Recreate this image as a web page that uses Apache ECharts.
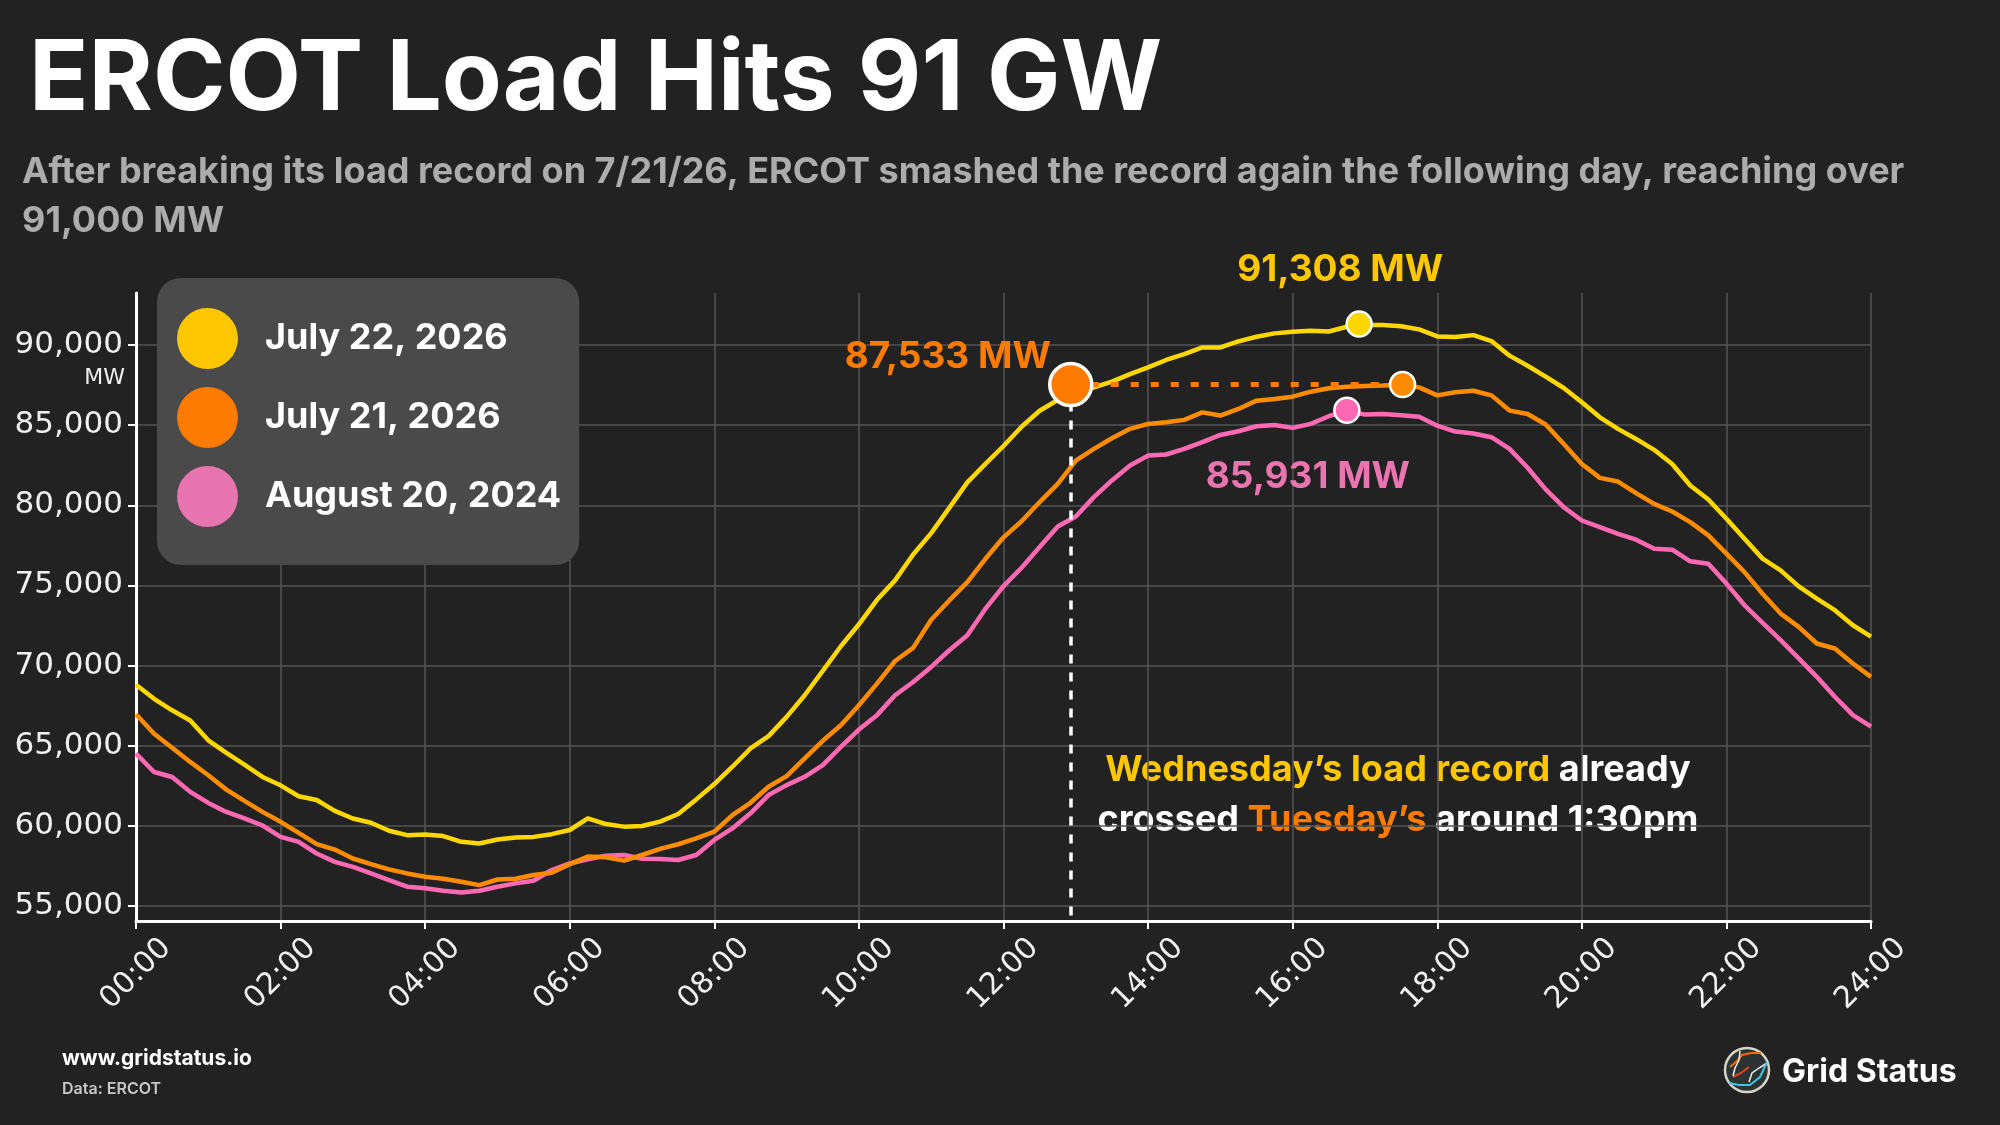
<!DOCTYPE html>
<html>
<head>
<meta charset="utf-8">
<title>ERCOT Load Hits 91 GW</title>
<script src="https://cdn.jsdelivr.net/npm/echarts@6/dist/echarts.min.js"></script>
<style>
  html, body { margin: 0; padding: 0; background: #222222; }
  #main { width: 2000px; height: 1125px; }
</style>
</head>
<body>
<div id="main"></div>
<script>
// load samples every 15 minutes, 00:00 .. 24:00 (MW)
const stepHours = 0.25;

const jul22 = [
  68800, 67920, 67200, 66570,
  65330, 64540, 63810, 63040,
  62520, 61840, 61600, 60920,
  60450, 60180, 59680, 59410,
  59450, 59350, 58990, 58890,
  59140, 59260, 59300, 59470,
  59730, 60460, 60100, 59940,
  59980, 60250, 60730, 61640,
  62600, 63680, 64820, 65590,
  66790, 68140, 69660, 71200,
  72570, 74100, 75310, 76930,
  78260, 79840, 81430, 82580,
  83700, 84900, 85900, 86570,
  86950, 87360, 87720, 88190,
  88610, 89070, 89440, 89850,
  89850, 90230, 90520, 90730,
  90830, 90890, 90850, 91140,
  91250, 91250, 91180, 90980,
  90540, 90500, 90620, 90250,
  89340, 88710, 88030, 87320,
  86430, 85490, 84770, 84140,
  83460, 82580, 81230, 80360,
  79160, 77910, 76670, 75940,
  74940, 74170, 73450, 72510,
  71800
];

const jul21 = [
  66950, 65740, 64870, 63980,
  63150, 62250, 61550, 60860,
  60240, 59550, 58850, 58510,
  57950, 57600, 57270, 57020,
  56810, 56690, 56500, 56290,
  56640, 56690, 56920, 57060,
  57600, 58070, 58030, 57820,
  58170, 58550, 58840, 59210,
  59630, 60660, 61430, 62430,
  63090, 64200, 65300, 66270,
  67520, 68870, 70280, 71100,
  72850, 74060, 75200, 76660,
  78000, 79000, 80200, 81340,
  82790, 83520, 84180, 84770,
  85080, 85180, 85330, 85800,
  85600, 86010, 86530, 86640,
  86780, 87090, 87300, 87400,
  87450, 87470, 87530, 87360,
  86860, 87050, 87150, 86860,
  85910, 85700, 85040, 83830,
  82580, 81710, 81480, 80760,
  80090, 79610, 78950, 78120,
  76980, 75830, 74480, 73240,
  72410, 71370, 71060, 70120,
  69290
];

const aug20 = [
  64500, 63350, 63040, 62110,
  61420, 60860, 60450, 60010,
  59300, 58990, 58260, 57740,
  57430, 57020, 56600, 56190,
  56100, 55940, 55830, 55940,
  56190, 56400, 56560, 57230,
  57640, 57900, 58130, 58170,
  57940, 57920, 57860, 58170,
  59110, 59830, 60770, 61910,
  62530, 63050, 63780, 64920,
  66000, 66900, 68140, 68970,
  69910, 70950, 71880, 73540,
  74950, 76100, 77400, 78680,
  79300, 80510, 81550, 82480,
  83100, 83170, 83520, 83940,
  84390, 84620, 84930, 85010,
  84830, 85080, 85560, 85910,
  85660, 85700, 85620, 85530,
  84970, 84600, 84480, 84250,
  83520, 82340, 80990, 79880,
  79050, 78640, 78220, 77850,
  77290, 77230, 76500, 76350,
  75110, 73760, 72660, 71580,
  70440, 69290, 68050, 66900,
  66180
];

const seriesNames = ['July 22, 2026', 'July 21, 2026', 'August 20, 2024'];
const xTickLabels = ['00:00', '02:00', '04:00', '06:00', '08:00', '10:00', '12:00',
                     '14:00', '16:00', '18:00', '20:00', '22:00', '24:00'];
const yTickValues = [55000, 60000, 65000, 70000, 75000, 80000, 85000, 90000];

// highlighted points [hour, MW]
const peakJul22 = [16.92, 91308];
const peakJul21 = [17.52, 87533];
const peakAug20 = [16.75, 85931];
const crossPoint = [12.93, 87533];

const yellow = '#FFD700', orange = '#FF8C00', pink = '#FF69B4';
const yellowText = '#FFC700', orangeText = '#FF7B00', pinkText = '#E874B0';

function toXY(values) {
    return values.map(function (v, i) { return [i * stepHours, v]; });
}
function mw(v) { return v.toLocaleString('en-US') + ' MW'; }

const labelFont = { fontFamily: 'Inter', fontSize: 37, fontWeight: 700 };

const chart = echarts.init(document.getElementById('main'));

const option = {
    backgroundColor: '#222222',
    animation: false,
    textStyle: { fontFamily: 'Inter' },
    grid: { left: 136, right: 129, top: 293, bottom: 204 },
    legend: {
        data: [
            { name: seriesNames[0], itemStyle: { color: yellowText } },
            { name: seriesNames[1], itemStyle: { color: orangeText } },
            { name: seriesNames[2], itemStyle: { color: pinkText } }
        ],
        orient: 'vertical',
        left: 157,
        top: 278,
        icon: 'circle',
        itemWidth: 61,
        itemHeight: 61,
        itemGap: 18,
        padding: [30, 18, 38, 20],
        backgroundColor: '#4a4a4a',
        borderRadius: 24,
        selectedMode: false,
        itemStyle: { borderWidth: 0 },
        textStyle: { color: '#ffffff', fontSize: 36, fontWeight: 700, fontFamily: 'Inter', padding: [0, 0, 0, 22] }
    },
    xAxis: {
        type: 'value',
        min: 0,
        max: 24,
        interval: 2,
        axisLine: { show: true, lineStyle: { color: '#ffffff', width: 3 } },
        axisTick: { show: true, length: 8, lineStyle: { color: '#ffffff', width: 2 } },
        axisLabel: {
            rotate: 45,
            align: 'center',
            verticalAlign: 'middle',
            margin: 53,
            color: '#f0f0f0',
            fontFamily: 'DejaVu Sans',
            fontSize: 30,
            formatter: function (v) { return xTickLabels[Math.round(v / 2)]; }
        },
        splitLine: { show: true, lineStyle: { color: '#555555', width: 1.5 } }
    },
    yAxis: {
        type: 'value',
        min: 54050,
        max: 93250,
        axisLine: { show: true, lineStyle: { color: '#ffffff', width: 3 } },
        axisTick: { show: true, length: 8, customValues: yTickValues, lineStyle: { color: '#ffffff', width: 2 } },
        axisLabel: {
            customValues: yTickValues,
            margin: 13,
            color: '#f0f0f0',
            fontFamily: 'DejaVu Sans',
            fontSize: 31,
            formatter: function (v) { return v.toLocaleString('en-US'); }
        },
        splitLine: { show: true, lineStyle: { color: '#555555', width: 1.5 } }
    },
    series: [
        {
            name: seriesNames[2],
            type: 'line',
            data: toXY(aug20),
            color: pink,
            symbol: 'none',
            lineStyle: { width: 4.5, color: pink },
            markPoint: {
                silent: true,
                symbol: 'circle',
                data: [{
                    coord: peakAug20,
                    symbolSize: 25,
                    itemStyle: { color: pink, borderColor: '#ffffff', borderWidth: 2.5 },
                    label: Object.assign({
                        show: true, position: 'inside', offset: [-39, 67],
                        color: pinkText, formatter: mw(peakAug20[1])
                    }, labelFont)
                }]
            }
        },
        {
            name: seriesNames[1],
            type: 'line',
            data: toXY(jul21),
            color: orange,
            symbol: 'none',
            lineStyle: { width: 4.5, color: orange },
            markLine: {
                silent: true,
                symbol: 'none',
                z: 4,
                label: { show: false },
                data: [
                    [
                        { coord: crossPoint, lineStyle: { color: orangeText, width: 5, type: [8, 12] } },
                        { coord: peakJul21 }
                    ],
                    [
                        { coord: crossPoint, lineStyle: { color: '#ffffff', width: 3.5, type: [9, 9] } },
                        { coord: [crossPoint[0], 54050] }
                    ]
                ]
            },
            markPoint: {
                silent: true,
                symbol: 'circle',
                data: [
                    {
                        coord: crossPoint,
                        symbolSize: 42,
                        itemStyle: { color: orangeText, borderColor: '#ffffff', borderWidth: 3.5 },
                        label: Object.assign({
                            show: true, position: 'inside', offset: [-123, -28],
                            color: orangeText, formatter: mw(crossPoint[1])
                        }, labelFont)
                    },
                    {
                        coord: peakJul21,
                        symbolSize: 25,
                        itemStyle: { color: orange, borderColor: '#ffffff', borderWidth: 2.5 },
                        label: { show: false }
                    }
                ]
            }
        },
        {
            name: seriesNames[0],
            type: 'line',
            data: toXY(jul22),
            color: yellow,
            symbol: 'none',
            lineStyle: { width: 4.5, color: yellow },
            markPoint: {
                silent: true,
                symbol: 'circle',
                data: [{
                    coord: peakJul22,
                    symbolSize: 25,
                    itemStyle: { color: yellow, borderColor: '#ffffff', borderWidth: 2.5 },
                    label: Object.assign({
                        show: true, position: 'inside', offset: [-19, -54],
                        color: yellowText, formatter: mw(peakJul22[1])
                    }, labelFont)
                }]
            }
        }
    ],
    graphic: [
        {
            type: 'text', left: 29, top: 32,
            style: { text: 'ERCOT Load Hits 91 GW', fill: '#ffffff', fontFamily: 'Inter', fontSize: 98, fontWeight: 700 }
        },
        {
            type: 'text', x: 22, y: 172, silent: true,
            style: {
                text: 'After breaking its load record on 7/21/26, ERCOT smashed the record again the following day, reaching over',
                fill: '#acacac', fontFamily: 'Inter', fontSize: 36, fontWeight: 700, verticalAlign: 'middle'
            }
        },
        {
            type: 'text', x: 22, y: 221, silent: true,
            style: { text: '91,000 MW', fill: '#acacac', fontFamily: 'Inter', fontSize: 36, fontWeight: 700, verticalAlign: 'middle' }
        },
        {
            type: 'text', x: 125, y: 378, silent: true,
            style: { text: 'MW', fill: '#eeeeee', fontFamily: 'DejaVu Sans', fontSize: 22, align: 'right', verticalAlign: 'middle' }
        },
        {
            type: 'text', x: 1398, y: 795, silent: true,
            style: {
                text: '{y|Wednesday\u2019s load record} {w|already}\n{w|crossed} {o|Tuesday\u2019s} {w|around 1:30pm}',
                align: 'center', verticalAlign: 'middle',
                fontFamily: 'Inter', fontSize: 36, fontWeight: 700, lineHeight: 50, fill: '#ffffff',
                rich: {
                    y: { fill: yellowText, fontFamily: 'Inter', fontSize: 36, fontWeight: 700, lineHeight: 50 },
                    o: { fill: orangeText, fontFamily: 'Inter', fontSize: 36, fontWeight: 700, lineHeight: 50 },
                    w: { fill: '#ffffff', fontFamily: 'Inter', fontSize: 36, fontWeight: 700, lineHeight: 50 }
                }
            }
        },
        {
            type: 'text', x: 62, y: 1059, silent: true,
            style: { text: 'www.gridstatus.io', fill: '#ffffff', fontFamily: 'Inter', fontSize: 21, fontWeight: 700, verticalAlign: 'middle' }
        },
        {
            type: 'text', x: 62, y: 1089, silent: true,
            style: { text: 'Data: ERCOT', fill: '#c8c8c8', fontFamily: 'Inter', fontSize: 16, fontWeight: 600, verticalAlign: 'middle' }
        },
        {
            // Grid Status logo
            type: 'group', x: 1747, y: 1070, silent: true,
            children: [
                { type: 'circle', shape: { cx: 0, cy: 0, r: 22 }, style: { fill: '#2b3333', stroke: '#d9d3c7', lineWidth: 2.5 } },
                { type: 'polyline', shape: { points: [[-17, -3], [-10, -9], [-5, -15], [4, -17], [14, -17]] }, style: { stroke: '#ff6a00', lineWidth: 2, fill: null } },
                { type: 'polyline', shape: { points: [[-14, 7], [-6, 3], [2, -3]] }, style: { stroke: '#e8401c', lineWidth: 2, fill: null } },
                { type: 'polyline', shape: { points: [[-7, -19], [-8, -10], [-12, -2], [-14, 6]] }, style: { stroke: '#f2f2f2', lineWidth: 1.5, fill: null } },
                { type: 'polyline', shape: { points: [[20, -7], [12, -2], [5, 3], [2, 12]] }, style: { stroke: '#f2f2f2', lineWidth: 1.5, fill: null } },
                { type: 'polyline', shape: { points: [[-18, 13], [-8, 15], [3, 15], [13, 7], [20, -8]] }, style: { stroke: '#3cc6e8', lineWidth: 2, fill: null } }
            ]
        },
        {
            type: 'text', x: 1782, y: 1072, silent: true,
            style: { text: 'Grid Status', fill: '#ffffff', fontFamily: 'Inter', fontSize: 32, fontWeight: 700, verticalAlign: 'middle' }
        }
    ]
};

chart.setOption(option);

window.addEventListener('resize', function () {
    chart.resize();
});
</script>
</body>
</html>
